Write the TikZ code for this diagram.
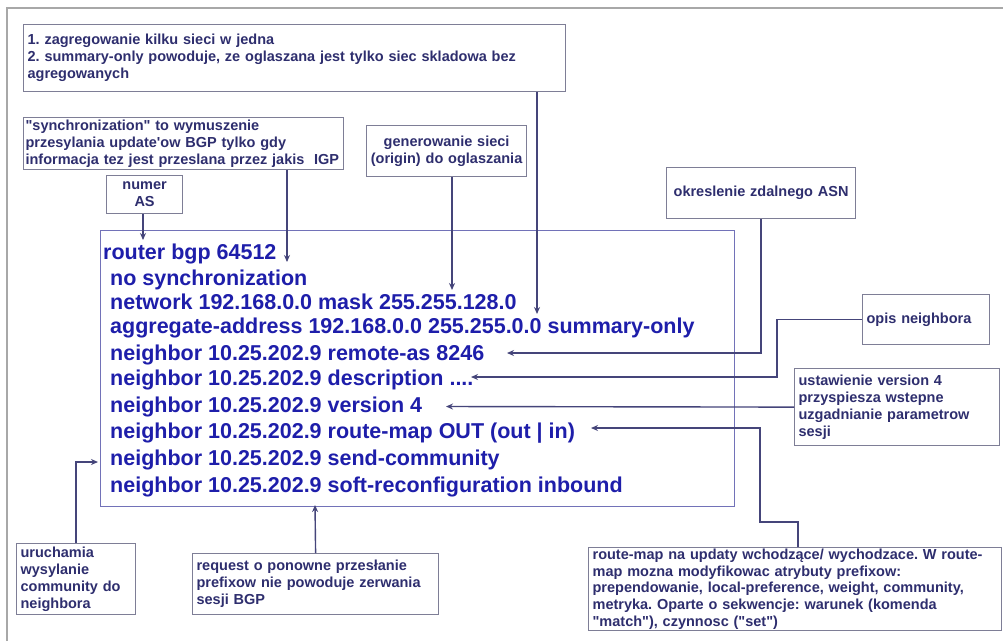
\documentclass[tikz,border=0pt]{standalone}
\usepackage{fontspec}
\setmainfont{Liberation Sans}
\usetikzlibrary{arrows.meta}
\definecolor{cframe}{HTML}{A8A8A8}
\definecolor{cbox}{HTML}{7E7E96}
\definecolor{ctext}{HTML}{2E2E6E}
\definecolor{ccode}{HTML}{1E1EAA}
\definecolor{cbig}{HTML}{7272B8}
\definecolor{cconn}{HTML}{45457A}
\tikzset{
  note/.style={draw=cbox, line width=1.2pt, fill=white, text=ctext, inner xsep=4pt, inner ysep=2pt, align=left, anchor=north west, font=\fontsize{14.5}{17}\selectfont\bfseries},
  midnote/.style={note, align=center},
  codebox/.style={draw=cbig, line width=1.2pt, anchor=north west, inner sep=0pt},
  code/.style={anchor=base west, text=ccode, inner sep=0pt, font=\fontsize{21.5}{25}\selectfont\bfseries},
  pre/.style={-{Stealth[length=7pt, width=6pt]}, draw=cconn, line width=1.4pt},
  frame/.style={draw=cframe, line width=1.5pt},
}
\frenchspacing
\begin{document}
\begin{tikzpicture}[x=1pt, y=-1pt]
\fill[white] (0,0) rectangle (1003,641);
\useasboundingbox (0,0) rectangle (1003,641);
\draw[frame] (7,641) |- (1003,8);
% configuration block
\node[codebox, minimum width=634pt, minimum height=276pt] (big) at (100,230) {};
\node[code] (l1) at (103,259) {router bgp 64512};
\node[code] (l2) at (110,285) {no synchronization};
\node[code] (l3) at (110,309) {network 192.168.0.0 mask 255.255.128.0};
\node[code] (l4) at (110,333) {aggregate-address 192.168.0.0 255.255.0.0 summary-only};
\node[code] (l5) at (110,360) {neighbor 10.25.202.9 remote-as 8246};
\node[code] (l6) at (110,385) {neighbor 10.25.202.9 description ....};
\node[code] (l7) at (110,412) {neighbor 10.25.202.9 version 4};
\node[code] (l8) at (110,438) {neighbor 10.25.202.9 route-map OUT (out | in)};
\node[code] (l9) at (110,465) {neighbor 10.25.202.9 send-community};
\node[code] (l10) at (110,492) {neighbor 10.25.202.9 soft-reconfiguration inbound};
% comments
\node[note, text width=534pt, minimum height=67pt] (agg) at (23,24) {1. zagregowanie kilku sieci w jedna\\2. summary-only powoduje, ze oglaszana jest tylko siec skladowa bez\\agregowanych};
\node[note, text width=316pt, inner xsep=2pt, minimum height=51pt] (sync) at (23,117) {\textquotedbl synchronization\textquotedbl{} to wymuszenie\\przesylania update\textquotesingle ow BGP tylko gdy\\\mbox{informacja tez jest przeslana przez jakis\ \ IGP}};
\node[midnote, text width=68pt, minimum height=38pt] (numas) at (106,175) {numer\\AS};
\node[midnote, text width=152pt, minimum height=51pt] (gen) at (366,125) {generowanie sieci\\(origin) do oglaszania};
\node[midnote, text width=181pt, minimum height=51pt] (asn) at (666,167) {okreslenie zdalnego ASN};
\node[note, text width=119pt, minimum height=50pt] (opis) at (862,294) {opis neighbora};
\node[note, text width=197pt, minimum height=77pt] (ver) at (794,368) {ustawienie version 4\\przyspiesza wstepne\\uzgadnianie parametrow\\sesji};
\node[note, text width=405pt, minimum height=83pt, inner ysep=1pt, font=\fontsize{14.5}{16.7}\selectfont\bfseries] (rmap) at (588,547) {route-map na updaty wchodzące/ wychodzace. W route-\\map mozna modyfikowac atrybuty prefixow:\\prependowanie, local-preference, weight, community,\\metryka. Oparte o sekwencje: warunek (komenda\\\textquotedbl match\textquotedbl), czynnosc (\textquotedbl set\textquotedbl)};
\node[note, text width=111pt, minimum height=71pt] (comm) at (16,543) {uruchamia\\wysylanie\\community do\\neighbora};
\node[note, text width=238pt, minimum height=61pt] (soft) at (192,553) {request o ponowne przesłanie\\prefixow nie powoduje zerwania\\sesji BGP};
% arrow ends and bends
\coordinate (a1) at (143,240);
\coordinate (a2) at (287,262);
\coordinate (a3) at (452,290);
\coordinate (a4) at (537,314);
\coordinate (a5) at (507,353);
\coordinate (a6) at (471,377);
\coordinate (k6) at (777,377);
\coordinate (a7) at (446,406.5);
\coordinate (a8) at (591,428);
\coordinate (k8a) at (798,522);
\coordinate (k8b) at (760,522);
\coordinate (a9) at (98,462);
\coordinate (a10) at (315,505);
\draw[pre] (numas.south -| a1) -- (a1);
\draw[pre] (sync.south -| a2) -- (a2);
\draw[pre] (gen.south -| a3) -- (a3);
\draw[pre] (agg.south -| a4) -- (a4);
\draw[pre] (asn.south) |- (a5);
\draw[pre] (opis.west) -| (k6) -- (a6);
\draw[pre] (ver.west) -- (a7);
\draw[pre] (rmap.north -| k8a) -- (k8a) -- (k8b) |- (a8);
\draw[pre] (comm.north) |- (a9);
\draw[pre] (soft.north) -- (a10);
\end{tikzpicture}
\end{document}
